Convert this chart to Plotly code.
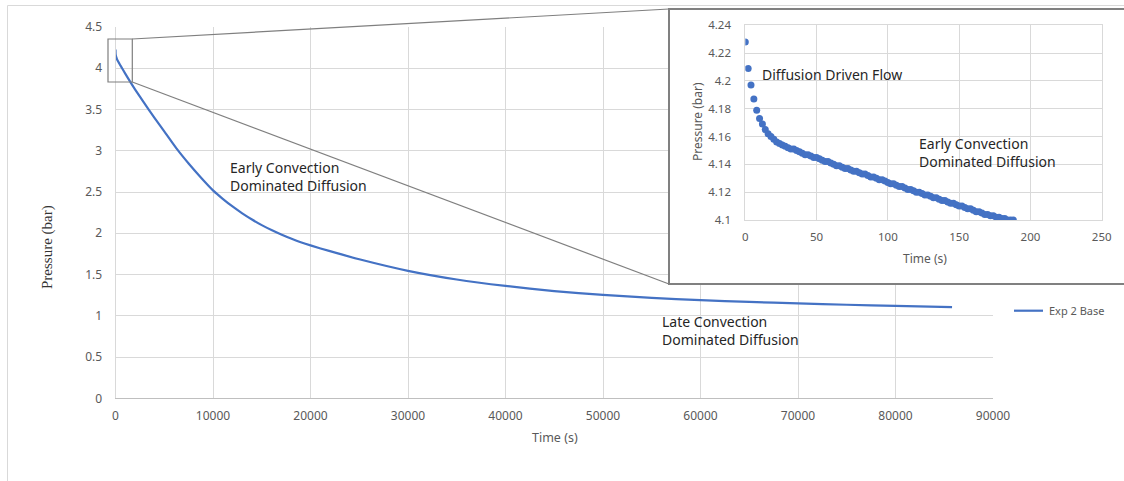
import plotly.graph_objects as go

# ---------------- data ----------------
main_time = [0, 10, 50, 100, 188, 500, 1000, 1500, 2000, 2850, 4000, 5000, 6270, 7500,
             8800, 10000, 11000, 12000, 13000, 14000, 15000, 16000, 17000, 18000, 19000,
             20000, 22000, 25000, 30000, 35000, 40000, 45000, 50000, 55000, 60000, 65000,
             70000, 75000, 80000, 85800]
main_pressure = [4.228, 4.173, 4.145, 4.128, 4.100, 4.035, 3.935, 3.838, 3.745, 3.595, 3.40,
                 3.235, 3.025, 2.845, 2.67, 2.52, 2.418, 2.325, 2.242, 2.167, 2.099, 2.039,
                 1.985, 1.936, 1.892, 1.853, 1.783, 1.685, 1.545, 1.44, 1.362, 1.30, 1.253,
                 1.217, 1.19, 1.168, 1.15, 1.134, 1.12, 1.105]

inset_time = list(range(0, 190, 2))
inset_pressure = [4.228, 4.209, 4.197, 4.187, 4.179, 4.173, 4.169, 4.165, 4.162, 4.160,
                  4.158, 4.156, 4.155, 4.154, 4.153, 4.152, 4.151, 4.151, 4.150, 4.149,
                  4.148, 4.147, 4.147, 4.146, 4.145, 4.145, 4.144, 4.143, 4.142, 4.142,
                  4.141, 4.140, 4.139, 4.139, 4.138, 4.137, 4.137, 4.136, 4.135, 4.135,
                  4.134, 4.133, 4.133, 4.132, 4.131, 4.131, 4.130, 4.129, 4.129, 4.128,
                  4.127, 4.126, 4.126, 4.125, 4.124, 4.124, 4.123, 4.122, 4.122, 4.121,
                  4.120, 4.120, 4.119, 4.118, 4.118, 4.117, 4.116, 4.116, 4.115, 4.114,
                  4.114, 4.113, 4.112, 4.112, 4.111, 4.110, 4.110, 4.109, 4.108, 4.108,
                  4.107, 4.106, 4.106, 4.105, 4.104, 4.104, 4.103, 4.103, 4.102, 4.102,
                  4.101, 4.101, 4.100, 4.100, 4.100]

main_x_ticks = [0, 10000, 20000, 30000, 40000, 50000, 60000, 70000, 80000, 90000]
main_x_labels = ["0", "10000", "20000", "30000", "40000", "50000", "60000", "70000",
                 "80000", "90000"]
main_y_ticks = [0, 0.5, 1, 1.5, 2, 2.5, 3, 3.5, 4, 4.5]
main_y_labels = ["0", "0.5", "1", "1.5", "2", "2.5", "3", "3.5", "4", "4.5"]
inset_x_ticks = [0, 50, 100, 150, 200, 250]
inset_x_labels = ["0", "50", "100", "150", "200", "250"]
inset_y_ticks = [4.1, 4.12, 4.14, 4.16, 4.18, 4.2, 4.22, 4.24]
inset_y_labels = ["4.1", "4.12", "4.14", "4.16", "4.18", "4.2", "4.22", "4.24"]

series_name = "Exp 2 Base"

# ---------------- layout helpers ----------------
W, H = 1124, 481
def px(x):
    return x / W
def py(y):
    return 1 - y / H

BLUE = "#4472C4"
GRID = "#D9D9D9"
TICK = "#595959"
SANS = "Noto Sans"

fig = go.Figure()

fig.add_trace(go.Scatter(x=main_time, y=main_pressure, mode="lines", name=series_name,
                         line=dict(color=BLUE, width=2.2, shape="spline", smoothing=0.6),
                         xaxis="x", yaxis="y", showlegend=False))
# invisible subplot giving the inset its white panel
fig.add_trace(go.Scatter(x=[], y=[], xaxis="x2", yaxis="y2", showlegend=False,
                         hoverinfo="skip"))
fig.add_trace(go.Scatter(x=inset_time, y=inset_pressure, mode="markers", name=series_name,
                         marker=dict(color=BLUE, size=7), xaxis="x3", yaxis="y3",
                         showlegend=False))

axis_common = dict(showgrid=True, gridcolor=GRID, gridwidth=1, zeroline=False, ticks="",
                   fixedrange=True, automargin=False)

fig.update_layout(
    width=W, height=H,
    margin=dict(l=0, r=0, t=0, b=0, pad=0, autoexpand=False),
    paper_bgcolor="white", plot_bgcolor="white",
    xaxis=dict(domain=[px(115.5), px(993)], range=[0, 90000], tickvals=main_x_ticks,
               ticktext=main_x_labels, showline=True, linecolor="#BFBFBF", linewidth=1,
               tickfont=dict(family=SANS, size=12, color=TICK), ticklabelstandoff=6,
               anchor="y", **axis_common),
    yaxis=dict(domain=[py(398.3), py(27)], range=[0, 4.5], tickvals=main_y_ticks,
               ticktext=main_y_labels, showline=True, linecolor=GRID, linewidth=1,
               tickfont=dict(family=SANS, size=12, color=TICK), ticklabelstandoff=10,
               anchor="x", **axis_common),
    xaxis2=dict(domain=[px(669), 1.0], range=[0, 1], visible=False, anchor="y2",
                fixedrange=True, automargin=False),
    yaxis2=dict(domain=[py(284), py(9)], range=[0, 1], visible=False, anchor="x2",
                fixedrange=True, automargin=False),
    xaxis3=dict(domain=[px(745.3), px(1101.7)], range=[0, 250], tickvals=inset_x_ticks,
                ticktext=inset_x_labels, showline=True, linecolor=GRID, mirror=True,
                tickfont=dict(family=SANS, size=11.5, color=TICK), ticklabelstandoff=6,
                anchor="y3", **axis_common),
    yaxis3=dict(domain=[py(220), py(25.3)], range=[4.1, 4.24], tickvals=inset_y_ticks,
                ticktext=inset_y_labels, showline=True, linecolor=GRID, mirror=True,
                tickfont=dict(family=SANS, size=11.5, color=TICK), ticklabelstandoff=11,
                anchor="x3", **axis_common),
)

def open_path(points):
    return "M " + " L ".join(f"{px(x):.5f},{py(y):.5f}" for x, y in points)

shapes = [
    # outer chart border (left and top edges; the rest lies outside the picture)
    dict(type="path", xref="paper", yref="paper",
         path=open_path([(7.5, 481), (7.5, 5.5), (1124, 5.5)]),
         line=dict(color=GRID, width=1), layer="below"),
    # inset box border (left, top and bottom edges)
    dict(type="path", xref="paper", yref="paper",
         path=open_path([(1124, 9), (669, 9), (669, 284), (1124, 284)]),
         line=dict(color="#808080", width=2), layer="above"),
    # zoom rectangle on main chart
    dict(type="rect", xref="paper", yref="paper", x0=px(108), x1=px(132.3), y0=py(82),
         y1=py(39), line=dict(color="#7F7F7F", width=1.2), layer="above"),
    # connector lines
    dict(type="line", xref="paper", yref="paper", x0=px(132.3), y0=py(39), x1=px(669),
         y1=py(9), line=dict(color="#7F7F7F", width=1.2), layer="above"),
    dict(type="line", xref="paper", yref="paper", x0=px(132.3), y0=py(82), x1=px(669),
         y1=py(284), line=dict(color="#7F7F7F", width=1.2), layer="above"),
    # legend sample line
    dict(type="line", xref="paper", yref="paper", x0=px(1014), y0=py(310.7), x1=px(1043),
         y1=py(310.7), line=dict(color=BLUE, width=2.2), layer="above"),
]
fig.update_layout(shapes=shapes)

TXT = "#262626"
annotations = [
    dict(text="Early Convection<br>Dominated Diffusion", x=px(228), y=py(176.5),
         xanchor="left", yanchor="middle", align="left",
         font=dict(family=SANS, size=14, color=TXT)),
    dict(text="Late Convection<br>Dominated Diffusion", x=px(660), y=py(330),
         xanchor="left", yanchor="middle", align="left",
         font=dict(family=SANS, size=14, color=TXT)),
    dict(text="Diffusion Driven Flow", x=px(760), y=py(74), xanchor="left",
         yanchor="middle", align="left", font=dict(family=SANS, size=14, color=TXT)),
    dict(text="Early Convection<br>Dominated Diffusion", x=px(917), y=py(152.5),
         xanchor="left", yanchor="middle", align="left",
         font=dict(family=SANS, size=14, color=TXT)),
    dict(text="Time (s)", x=px(555), y=py(437), xanchor="center", yanchor="middle",
         font=dict(family=SANS, size=12.5, color=TICK)),
    dict(text="Pressure (bar)", x=px(47), y=py(247), xanchor="center", yanchor="middle",
         textangle=-90, font=dict(family="Liberation Serif", size=15, color="#333333")),
    dict(text="Time (s)", x=px(925), y=py(258), xanchor="center", yanchor="middle",
         font=dict(family=SANS, size=12, color=TICK)),
    dict(text="Pressure (bar)", x=px(697), y=py(122), xanchor="center", yanchor="middle",
         textangle=-90, font=dict(family=SANS, size=12, color=TICK)),
    dict(text=series_name, x=px(1047), y=py(310.7), xanchor="left", yanchor="middle",
         font=dict(family=SANS, size=11, color=TICK)),
]
for a in annotations:
    a.update(xref="paper", yref="paper", showarrow=False)
fig.update_layout(annotations=annotations)

fig.write_html("out.html")
